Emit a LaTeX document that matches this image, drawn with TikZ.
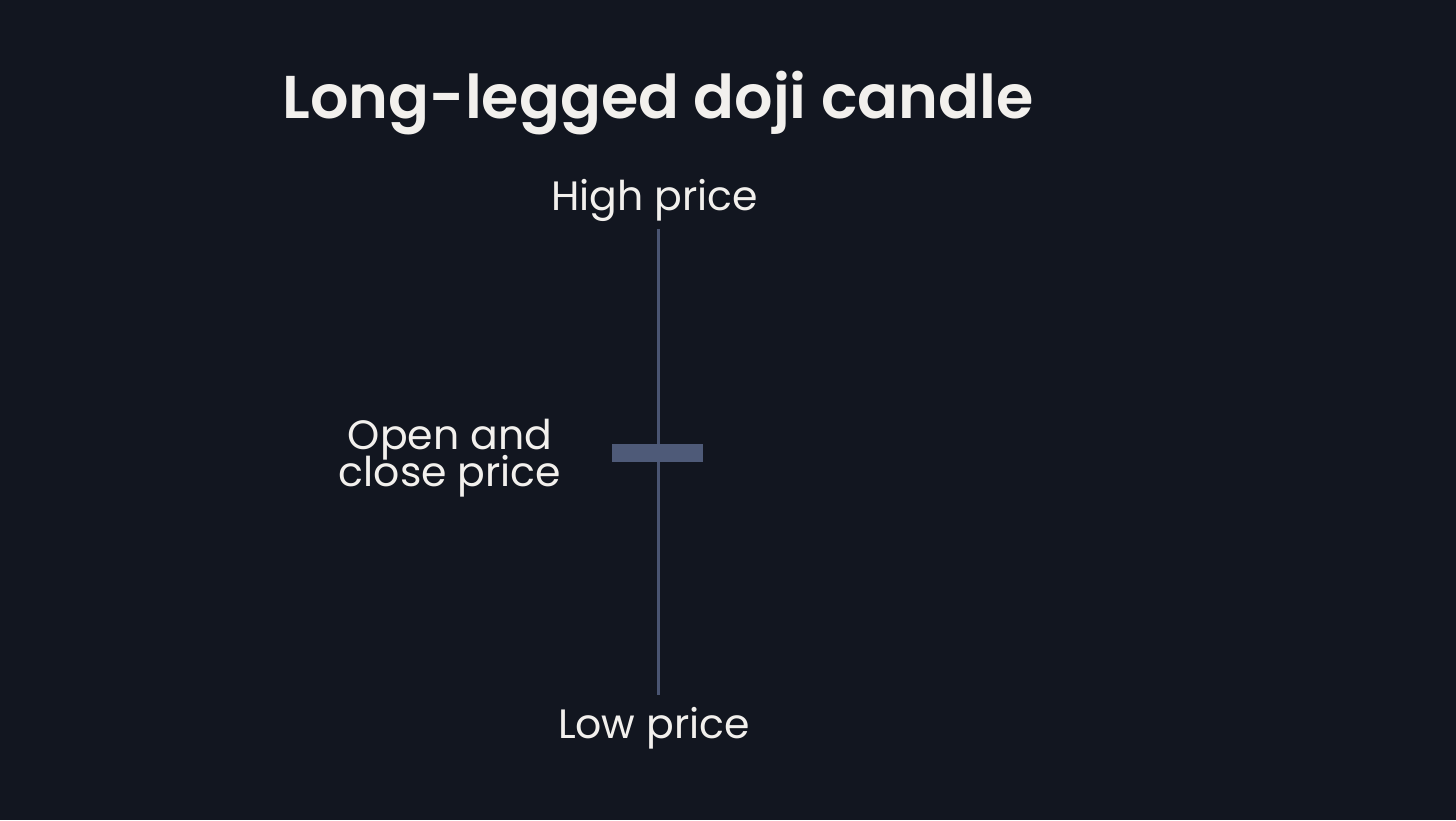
\documentclass[tikz,border=0pt]{standalone}
\usepackage{fontspec}
\setmainfont{Poppins}
\newfontfamily\titlefont{Poppins SemiBold}
\definecolor{bg}{HTML}{121620}
\definecolor{wickc}{HTML}{4A5572}
\definecolor{bodyc}{HTML}{4E5A78}
\definecolor{txt}{HTML}{F2F0ED}
\newcommand{\lblfont}{\fontsize{20.5}{18.5}\selectfont\lineskiplimit=-50pt\relax\lineskip=0pt\relax}
\tikzset{
  lbl/.style={text=txt, inner sep=0pt, font=\lblfont},
  ttl/.style={text=txt, inner sep=0pt, font=\titlefont\fontsize{30.2}{36}\selectfont},
}
\begin{document}
\begin{tikzpicture}[x=0.5pt,y=-0.5pt]
\fill[bg] (0,0) rectangle (1456,820);
\useasboundingbox (0,0) rectangle (1456,820);
\node[ttl, anchor=base] (title) at (658,118) {Long-legged doji candle};
\node[lbl, anchor=base] (high) at (654.5,210) {High price};
\node[lbl, anchor=base] (low) at (654,738) {Low price};
\node[lbl, anchor=base, align=center] (oc) at (450,486) {Open and\\close price};
\coordinate (wtop) at (658,229);
\coordinate (wbot) at (658,695);
\draw[wickc, line width=1.5pt] (wtop) -- (wbot);
\fill[bodyc] (612,444) rectangle (703,462);
\end{tikzpicture}
\end{document}
